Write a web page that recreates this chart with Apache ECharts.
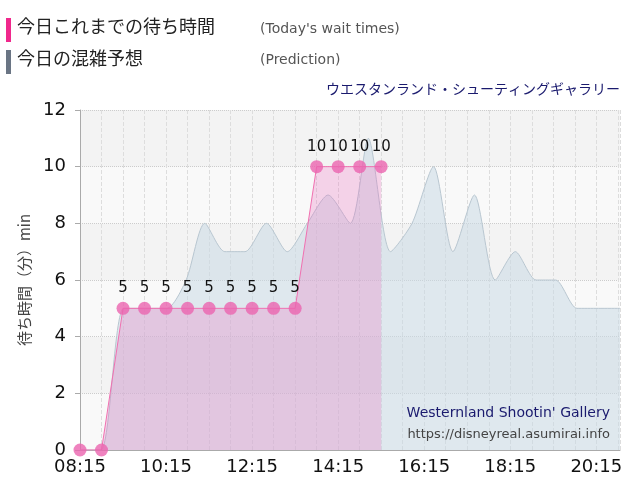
<!DOCTYPE html><html><head><meta charset="utf-8"><script src="https://cdn.jsdelivr.net/npm/echarts@6/dist/echarts.min.js"></script></head><body style="margin:0"><div id="c" style="width:640px;height:500px"></div><script>
const actualMin=[0,30,60,90,120,150,180,210,240,270,300,330,360,390,420];
const actualVal=[0,0,5,5,5,5,5,5,5,5,5,10,10,10,10];
const predMin=[0,29,61,91,121,148,174,202,230,260,289,317,346,377,402,433,463,493,520,550,579,607,636,663,693,723,753];
const predVal=[0,0,5,5,5,6,8,7,7,8,7,8,9,8,11,7,8,10,7,9,6,7,6,6,5,5,5];
const START=495;
function fmt(v){const m=START+v;const h=Math.floor(m/60),mm=m%60;return String(h).padStart(2,'0')+':'+String(mm).padStart(2,'0');}
const ch=echarts.init(document.getElementById('c'));
const F='"Noto Sans CJK JP","Noto Sans",sans-serif';
ch.setOption({animation:false,textStyle:{fontFamily:F},
grid:{left:80,right:20,top:110,bottom:50},
graphic:[
{type:'rect',left:6,top:18,shape:{width:5,height:24},style:{fill:'#f0288c'}},
{type:'text',left:17,top:17,style:{text:'今日これまでの待ち時間',fill:'#222',font:'18px '+F}},
{type:'text',left:260,top:22,style:{text:"(Today's wait times)",fill:'#555',font:'14px "DejaVu Sans"'}},
{type:'rect',left:6,top:50,shape:{width:5,height:24},style:{fill:'#6a7584'}},
{type:'text',left:17,top:49,style:{text:'今日の混雑予想',fill:'#222',font:'18px '+F}},
{type:'text',left:260,top:53,style:{text:'(Prediction)',fill:'#555',font:'14px "DejaVu Sans"'}},
{type:'text',right:20,top:82,style:{text:'ウエスタンランド・シューティングギャラリー',fill:'#1a1a6e',font:'14px '+F}},
{type:'text',right:30,top:406,z:100,style:{text:"Westernland Shootin' Gallery",fill:'#1a1a6e',font:'14px "DejaVu Sans"'}},
{type:'text',right:30,top:428,z:100,style:{text:'https://disneyreal.asumirai.info',fill:'#444',font:'13px "DejaVu Sans"'}}
],
xAxis:{type:'value',min:0,max:753,interval:30,
axisLine:{lineStyle:{color:'#aaa'}},axisTick:{show:false},
axisLabel:{fontSize:18,color:'#111',fontFamily:'"DejaVu Sans"',formatter:v=>v%120===0?fmt(v):''},
splitLine:{show:true,lineStyle:{type:'dashed',color:'#ddd'}}},
yAxis:{type:'value',min:0,max:12,interval:2,name:'待ち時間（分）min',nameLocation:'middle',nameGap:48,nameTextStyle:{fontSize:15,color:'#444'},
axisLine:{show:true,lineStyle:{color:'#aaa'}},axisLabel:{fontSize:18,color:'#111',fontFamily:'"DejaVu Sans"',margin:14},
splitLine:{lineStyle:{type:'dotted',color:'#ccc'}},
splitArea:{show:true,areaStyle:{color:['#f9f9f9','#f3f3f3']}}},
series:[
{type:'line',data:predMin.map((m,i)=>[m,predVal[i]]),symbol:'none',smooth:0.25,lineStyle:{color:'#b8c6d0',width:1},areaStyle:{color:'rgba(200,216,228,0.75)'},z:1},
{type:'line',data:actualMin.map((m,i)=>[m,actualVal[i]]),symbol:'circle',symbolSize:13,
itemStyle:{color:'rgba(235,100,175,0.8)'},lineStyle:{color:'#f070b0',width:1},
areaStyle:{color:'rgba(235,110,190,0.4)'},z:2,
label:{show:true,position:'top',fontSize:15,color:'#111',fontFamily:'"DejaVu Sans"',distance:6,formatter:p=>p.value[1]>0?p.value[1]:''}}
]});
</script></body></html>
